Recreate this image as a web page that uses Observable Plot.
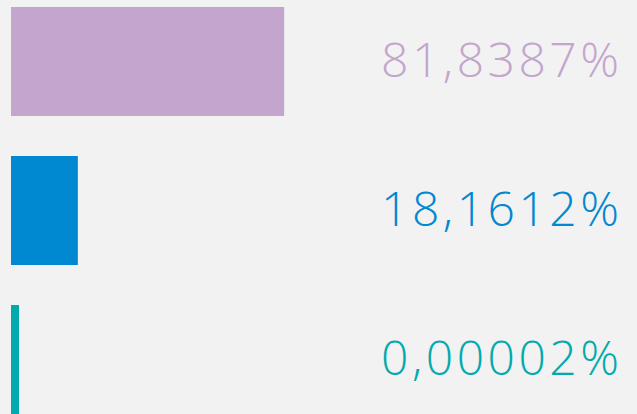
<!DOCTYPE html>
<html>
<head>
<meta charset="utf-8">
<script src="https://cdn.jsdelivr.net/npm/d3@7"></script>
<script src="https://cdn.jsdelivr.net/npm/@observablehq/plot@0.6"></script>
<style>
  html, body { margin: 0; padding: 0; background: #f2f2f2; }
  #chart svg { display: block; }
  #chart text { letter-spacing: 3.5px; }
</style>
</head>
<body>
<div id="chart"></div>
<script>
const categories = ["A", "B", "C"];
const values = [81.8387, 18.1612, 0.00002];
const labels = ["81,8387%", "18,1612%", "0,00002%"];
const colors = ["#c4a5cd", "#0088d1", "#00aaad"];

const data = categories.map((c, i) => ({cat: c, value: values[i], label: labels[i], color: colors[i]}));

const chart = Plot.plot({
  width: 637,
  height: 414,
  marginLeft: 19,
  marginRight: 294,
  marginTop: 6,
  marginBottom: 0,
  style: {background: "#f2f2f2", overflow: "visible"},
  x: {domain: [0, 100], axis: null},
  y: {domain: categories, axis: null, paddingInner: 0.269, paddingOuter: 0},
  marks: [
    Plot.barX(data, {y: "cat", x: "value", fill: "color", insetLeft: -8}),
    Plot.text(data, {
      y: "cat", text: "label", fill: "color",
      frameAnchor: "right", textAnchor: "end", dx: 279,
      fontSize: 48, fontWeight: 300, fontFamily: "'Open Sans', sans-serif"
    })
  ]
});
document.getElementById("chart").appendChild(chart);
</script>
</body>
</html>
